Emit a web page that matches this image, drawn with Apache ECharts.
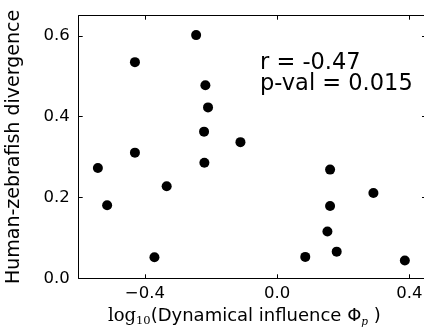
<!DOCTYPE html>
<html>
<head>
<meta charset="utf-8">
<script src="https://cdn.jsdelivr.net/npm/echarts@6/dist/echarts.min.js"></script>
<style>
html,body{margin:0;padding:0;background:#fff;}
#c{width:424px;height:329px;}
</style>
</head>
<body>
<div id="c"></div>
<script>
// log10(Dynamical influence) values
const xValues = [-0.245, -0.430, -0.217, -0.209, -0.221, -0.430, -0.111, -0.220, -0.542, -0.514, -0.334, -0.371, 0.160, 0.291, 0.160, 0.152, 0.180, 0.085, 0.386];
// Human-zebrafish divergence values
const yValues = [0.602, 0.535, 0.478, 0.423, 0.363, 0.311, 0.337, 0.286, 0.273, 0.181, 0.228, 0.052, 0.269, 0.211, 0.179, 0.116, 0.066, 0.053, 0.044];
const xTicks = [-0.4, 0.0, 0.4];
const yTicks = [0.0, 0.2, 0.4, 0.6];
const annotationLines = ['r = -0.47', 'p-val = 0.015'];

const FONT = 'DejaVu Sans';
const fmt = v => Number(v).toFixed(1).replace('-', '\u2212');

const chart = echarts.init(document.getElementById('c'), null, {renderer: 'canvas'});
const points = xValues.map((x, i) => [x, yValues[i]]);

const tickStyle = {show: true, inside: true, length: 4, lineStyle: {color: '#000', width: 1}};
const lineStyle = {show: true, onZero: false, lineStyle: {color: '#000', width: 1}};

chart.setOption({
  animation: false,
  backgroundColor: '#fff',
  grid: {left: 78.7, top: 15.7, right: -2, bottom: 50.7, containLabel: false, outerBoundsMode: 'none'},
  xAxis: [{
    type: 'value', min: -0.6, max: 0.45, position: 'bottom',
    axisLine: lineStyle,
    axisTick: Object.assign({customValues: xTicks}, tickStyle),
    splitLine: {show: false},
    axisLabel: {customValues: xTicks, formatter: fmt, color: '#000', fontFamily: FONT, fontSize: 16.5, margin: 7},
    name: '{s|log}{sub|10}{n|(Dynamical influence \u03A6}{subi|p}{n| )}',
    nameLocation: 'middle', nameGap: 27,
    nameTextStyle: {
      color: '#000', fontFamily: FONT, fontSize: 18, padding: [0, 16, 0, 0],
      rich: {
        s: {fontFamily: 'DejaVu Serif', fontSize: 18, color: '#000', lineHeight: 22},
        sub: {fontFamily: 'DejaVu Serif', fontSize: 11.5, color: '#000', lineHeight: 12, verticalAlign: 'bottom'},
        n: {fontFamily: FONT, fontSize: 18, color: '#000', lineHeight: 22},
        subi: {fontFamily: 'DejaVu Serif', fontStyle: 'italic', fontSize: 10.5, color: '#000', lineHeight: 12, verticalAlign: 'bottom'}
      }
    }
  }, {
    type: 'value', min: -0.6, max: 0.45, position: 'top',
    axisLine: lineStyle,
    axisTick: Object.assign({customValues: xTicks}, tickStyle),
    splitLine: {show: false},
    axisLabel: {show: false}
  }],
  yAxis: [{
    type: 'value', min: 0, max: 0.65, position: 'left',
    axisLine: lineStyle,
    axisTick: Object.assign({customValues: yTicks}, tickStyle),
    splitLine: {show: false},
    axisLabel: {customValues: yTicks, formatter: fmt, color: '#000', fontFamily: FONT, fontSize: 16.5, margin: 9},
    name: 'Human-zebrafish divergence',
    nameLocation: 'middle', nameGap: 55, nameRotate: 90,
    nameTextStyle: {color: '#000', fontFamily: FONT, fontSize: 19}
  }, {
    type: 'value', min: 0, max: 0.65, position: 'right',
    axisLine: lineStyle,
    axisTick: Object.assign({customValues: yTicks}, tickStyle),
    splitLine: {show: false},
    axisLabel: {show: false}
  }],
  series: [{
    type: 'scatter',
    xAxisIndex: 0, yAxisIndex: 0,
    data: points,
    symbol: 'circle',
    symbolSize: 10,
    itemStyle: {color: '#000', borderWidth: 0, opacity: 1},
    silent: true
  }],
  graphic: [{
    type: 'text',
    left: 260, top: 52,
    style: {
      text: annotationLines.join('\n'),
      font: '22.5px "' + FONT + '"',
      fill: '#000',
      lineHeight: 21
    }
  }]
});
</script>
</body>
</html>
